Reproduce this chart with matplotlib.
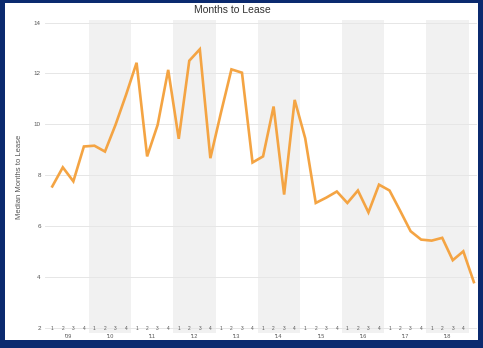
import matplotlib
matplotlib.use("Agg")
import matplotlib.pyplot as plt
from matplotlib.patches import Rectangle
from matplotlib.transforms import blended_transform_factory

# --- data: median months to lease, quarterly 2009 Q1 .. 2019 Q1 ---
years = [2009, 2010, 2011, 2012, 2013, 2014, 2015, 2016, 2017, 2018]
year_labels = ["'09", "'10", "'11", "'12", "'13", "'14", "'15", "'16", "'17", "'18"]
quarter_labels = ["1", "2", "3", "4"]
months_to_lease = [
    7.56, 8.31, 7.76, 9.13,
    9.16, 8.93, 9.98, 11.16,
    12.42, 8.74, 9.98, 12.14,
    9.43, 12.50, 12.95, 8.67,
    10.45, 12.16, 12.03, 8.50,
    8.74, 10.70, 7.24, 10.96,
    9.45, 6.91, 7.12, 7.36,
    6.91, 7.40, 6.54, 7.63,
    7.40, 6.61, 5.80, 5.47,
    5.43, 5.54, 4.66, 5.01,
    3.80,
]
y_ticks = [2, 4, 6, 8, 10, 12, 14]

NAVY = "#0b2a6f"
ORANGE = "#f4a443"
BAND = "#f1f1f1"
GRID = "#e6e6e6"
TEXT = "#555555"

plt.rcParams["font.family"] = ["Liberation Sans", "DejaVu Sans"]

fig = plt.figure(figsize=(4.83, 3.48), dpi=100, facecolor=NAVY)
# white card inside the navy frame
fig.patches.append(Rectangle((5 / 483, 8 / 348), 473 / 483, 337 / 348,
                             transform=fig.transFigure, facecolor="white",
                             edgecolor="none", zorder=-10))

ax = fig.add_axes([45 / 483, 15 / 348, 432 / 483, 313 / 348])
ax.set_facecolor("none")

# alternating year bands
for k, yr in enumerate(years):
    if k % 2 == 1:
        ax.axvspan(4 * k - 0.5, 4 * k + 3.5, color=BAND, lw=0, zorder=0)

x = list(range(len(months_to_lease)))
ax.plot(x, months_to_lease, color=ORANGE, lw=1.9, solid_joinstyle="miter", zorder=3)

ax.set_xlim(-0.69, 40.3)
ax.set_ylim(1.8, 14.1)

ax.set_yticks(y_ticks)
ax.set_yticklabels([str(v) for v in y_ticks])
ax.yaxis.grid(True, color=GRID, lw=0.7, zorder=1)
ax.set_axisbelow(True)
ax.tick_params(axis="y", length=0, pad=3, labelsize=4.5, labelcolor=TEXT)

# year labels under the axis, quarter numbers just inside it
ax.set_xticks([4 * k + 1.5 for k in range(len(years))])
ax.set_xticklabels(year_labels)
ax.tick_params(axis="x", length=0, pad=1, labelsize=4, labelcolor=TEXT)
trans = blended_transform_factory(ax.transData, ax.transAxes)
for k in range(len(years)):
    for q, ql in enumerate(quarter_labels):
        ax.text(4 * k + q, 0.014, ql, transform=trans, ha="center", va="center",
                fontsize=3.5, color=TEXT)

for s in ax.spines.values():
    s.set_visible(False)

ax.set_ylabel("Median Months to Lease", fontsize=5.5, color=TEXT, labelpad=8)
fig.text(232 / 483, 1 - 10 / 348, "Months to Lease", ha="center", va="center",
         fontsize=7.5, color="#333333")

fig.savefig("out.png", dpi=100, facecolor=NAVY)
